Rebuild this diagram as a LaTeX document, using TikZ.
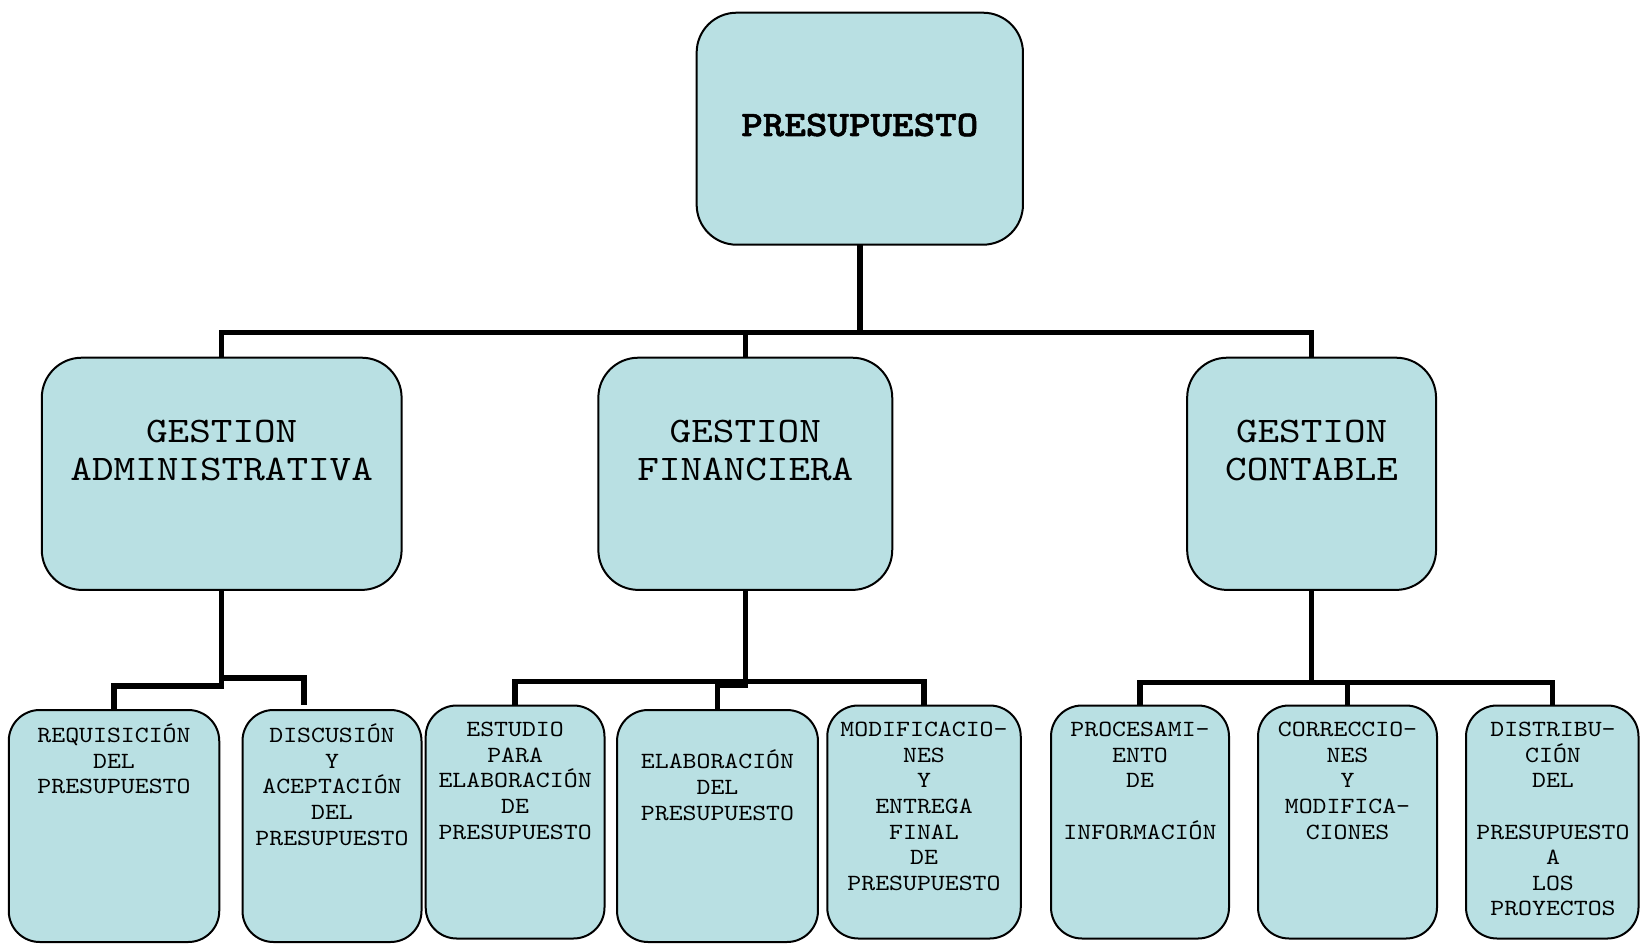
\documentclass[tikz,border=0pt]{standalone}
\usepackage{fontspec}
\newfontfamily\cour[FakeStretch=1.143, BoldFont=lmmonolt10-bold.otf, BoldFeatures={FakeStretch=1.143, FakeBold=1.5}]{lmmono10-regular.otf}
\definecolor{boxfill}{RGB}{185,224,227}
\begin{document}
\begin{tikzpicture}[x=1pt,y=-1pt,
  box/.style={draw=black, line width=2pt, fill=boxfill, rectangle, inner sep=0pt, outer sep=0pt},
  bigbox/.style={box, rounded corners=40pt},
  smallbox/.style={box, rounded corners=31pt},
  conn/.style={line width=5.5pt, draw=black},
  tone/.style={font=\cour\bfseries\fontsize{35.9}{40}\selectfont, inner sep=0pt, anchor=base},
  ttwo/.style={font=\cour\fontsize{36}{37.7}\selectfont, align=center, inner sep=0pt, anchor=north},
  tthree/.style={font=\cour\fontsize{23.2}{25.6}\selectfont, align=center, inner sep=0pt, anchor=north},
]
\useasboundingbox (0,0) rectangle (1640,944);

% level 1
\node[bigbox, minimum width=326.3pt, minimum height=232pt] (top) at (859.8,128.7) {};
% level 2
\node[bigbox, minimum width=359.8pt, minimum height=232.2pt] (ga) at (221.7,473.8) {};
\node[bigbox, minimum width=293.9pt, minimum height=232.2pt] (gf) at (745.3,473.8) {};
\node[bigbox, minimum width=248.9pt, minimum height=232.2pt] (gc) at (1311.6,473.8) {};
% level 3
\node[smallbox, minimum width=210.5pt, minimum height=232pt] (req) at (114,826) {};
\node[smallbox, minimum width=179pt, minimum height=232pt] (disc) at (332,826) {};
\node[smallbox, minimum width=178.8pt, minimum height=233pt] (est) at (515.1,822) {};
\node[smallbox, minimum width=200.9pt, minimum height=232pt] (elab) at (717.5,826) {};
\node[smallbox, minimum width=193.5pt, minimum height=233pt] (mod) at (924,822) {};
\node[smallbox, minimum width=178pt, minimum height=233pt] (proc) at (1140,822) {};
\node[smallbox, minimum width=179pt, minimum height=233pt] (corr) at (1347.5,822) {};
\node[smallbox, minimum width=172.5pt, minimum height=233pt] (distr) at (1552.25,822) {};

% texts
\node[tone] (ttop) at (859.8,136) {PRESUPUESTO};
\node[ttwo] (tga) at (221.7,414.3) {\rule{0pt}{28pt}GESTION\\ADMINISTRATIVA};
\node[ttwo] (tgf) at (745.3,414.3) {\rule{0pt}{28pt}GESTION\\FINANCIERA};
\node[ttwo] (tgc) at (1311.6,414.3) {\rule{0pt}{28pt}GESTION\\CONTABLE};

\node[tthree] (treq) at (114,723.8) {\rule{0pt}{18pt}REQUISICIÓN\\DEL\\PRESUPUESTO};
\node[tthree] (tdisc) at (332,723.8) {\rule{0pt}{18pt}DISCUSIÓN\\Y\\ACEPTACIÓN\\DEL\\PRESUPUESTO};
\node[tthree] (test) at (515.1,718.5) {\rule{0pt}{18pt}ESTUDIO\\PARA\\ELABORACIÓN\\DE\\PRESUPUESTO};
\node[tthree] (telab) at (717.5,750) {\rule{0pt}{18pt}ELABORACIÓN\\DEL\\PRESUPUESTO};
\node[tthree] (tmod) at (924,718.5) {\rule{0pt}{18pt}MODIFICACIO-\\NES\\Y\\ENTREGA\\FINAL\\DE\\PRESUPUESTO};
\node[tthree] (tproc) at (1140,718.5) {\rule{0pt}{18pt}PROCESAMI-\\ENTO\\DE\\[25.6pt]INFORMACIÓN};
\node[tthree] (tcorr) at (1347.5,718.5) {\rule{0pt}{18pt}CORRECCIO-\\NES\\Y\\MODIFICA-\\CIONES};
\node[tthree] (tdistr) at (1553,718.5) {\rule{0pt}{18pt}DISTRIBU-\\CIÓN\\DEL\\[25.6pt]PRESUPUESTO\\A\\LOS\\PROYECTOS};

% connector levels
\coordinate (bar1) at (0,332.6);
\coordinate (ya1) at (0,685.8);
\coordinate (ya2) at (0,678.2);
\coordinate (yf1) at (0,681.5);
\coordinate (yf2) at (0,685.6);
\coordinate (yc) at (0,682.5);
\coordinate (discin) at (304.2,705);

% level 1 -> 2
\draw[conn] (top.south) -- (top.south |- bar1);
\draw[conn] (ga.north) -- (ga.north |- bar1) -- (gc.north |- bar1) -- (gc.north);
\draw[conn] (gf.north) -- (gf.north |- bar1);

% administrativa
\draw[conn] (ga.south) -- (ga.south |- ya1) -- (req.north |- ya1) -- (req.north);
\draw[conn] (ga.south |- ya1) -- (ga.south |- ya2) -- (discin |- ya2) -- (discin);

% financiera
\draw[conn] (est.north) -- (est.north |- yf1) -- (mod.north |- yf1) -- (mod.north);
\draw[conn] (gf.south) -- (gf.south |- yf2) -- (elab.north |- yf2) -- (elab.north);

% contable
\draw[conn] (gc.south) -- (gc.south |- yc);
\draw[conn] (proc.north) -- (proc.north |- yc) -- (distr.north |- yc) -- (distr.north);
\draw[conn] (corr.north) -- (corr.north |- yc);
\end{tikzpicture}
\end{document}
